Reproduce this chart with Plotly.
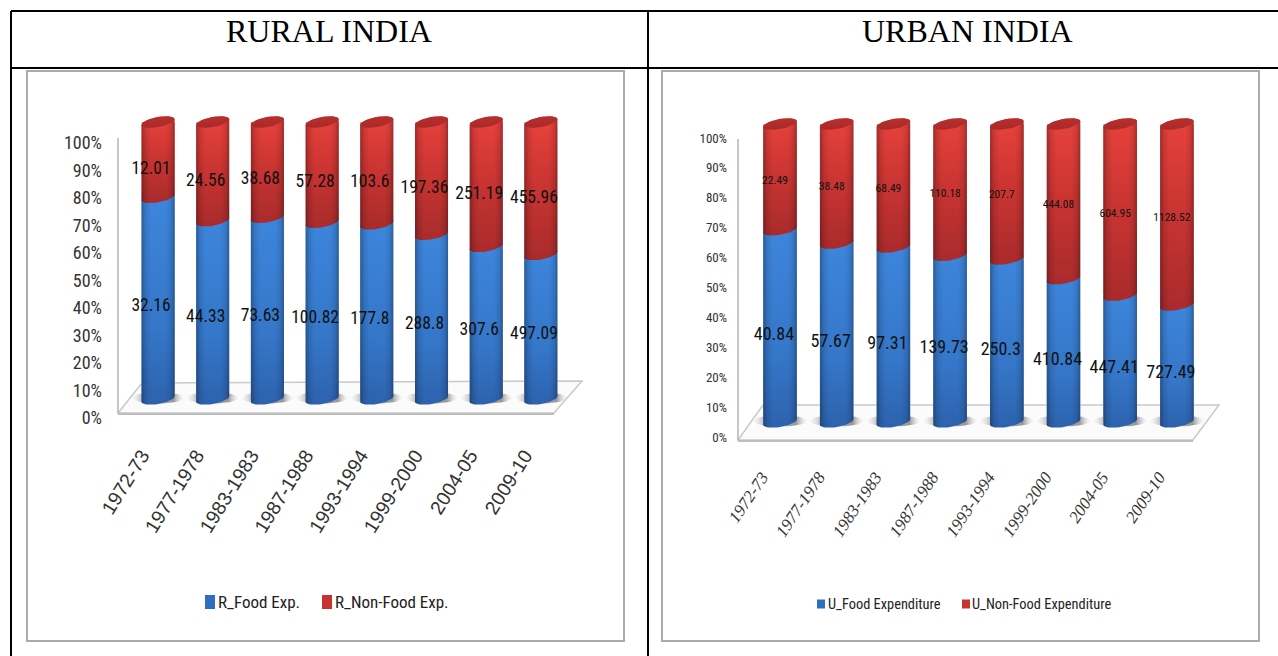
import numpy as np
import plotly.graph_objects as go

# Household expenditure by NSS round
periods = ["1972-73", "1977-1978", "1983-1983", "1987-1988", "1993-1994", "1999-2000", "2004-05", "2009-10"]
rural_food = [32.16, 44.33, 73.63, 100.82, 177.8, 288.8, 307.6, 497.09]
rural_non_food = [12.01, 24.56, 38.68, 57.28, 103.6, 197.36, 251.19, 455.96]
urban_food = [40.84, 57.67, 97.31, 139.73, 250.3, 410.84, 447.41, 727.49]
urban_non_food = [22.49, 38.48, 68.49, 110.18, 207.7, 444.08, 604.95, 1128.52]
pct_ticks = [0, 10, 20, 30, 40, 50, 60, 70, 80, 90, 100]

W, H = 1278, 656
NARROW = "Liberation Sans Narrow, Roboto Condensed, Noto Sans Condensed, DejaVu Sans Condensed, sans-serif"
BLUE, RED = "#2f6fc0", "#c8322f"
PAD = 7  # percentage points of headroom for the rims beyond 0 and 100


def fx(px):
    return px / W


def fy(py):
    return 1 - py / H


panels = [
    dict(title="RURAL INDIA", title_x=328.5, food=rural_food, other=rural_non_food,
         names=("R_Food Exp.", "R_Non-Food Exp."), first=158, step=54.7, width=33,
         base=399, top=122, tick_base=418, tick_top=143, tick_right=103, tick_font=18,
         tick_family=NARROW, x_font=19.5, x_family="Liberation Sans", x_style="normal", x_angle=-58,
         x_standoff=21, x_shift=-16,
         food_font=17.5, other_font=17.5, food_dx=-7, other_dx=-7, food_dy=8, other_dy=10,
         floor=[(118, 413), (554, 413), (582, 381), (142, 383)], wall_top=138,
         frame=(27, 71, 624, 641),
         legend=dict(y=602, swatches=(205, 322), labels=(216, 333), font=17, size=(10, 14))),
    dict(title="URBAN INDIA", title_x=967, food=urban_food, other=urban_non_food,
         names=("U_Food Expenditure", "U_Non-Food Expenditure"), first=780, step=56.7, width=33.5,
         base=422, top=124, tick_base=437, tick_top=138, tick_right=728, tick_font=13,
         tick_family=NARROW, x_font=17, x_family="Liberation Serif", x_style="italic", x_angle=-56,
         x_standoff=20, x_shift=-18,
         food_font=18, other_font=11.5, food_dx=-6, other_dx=-5, food_dy=10, other_dy=4,
         floor=[(738, 440), (1193, 440), (1219, 405), (763, 405)], wall_top=139,
         frame=(662, 71, 1259, 641),
         legend=dict(y=604, swatches=(817, 962), labels=(826, 970), font=14.4, size=(8, 9))),
]

fig = go.Figure()
shapes = []
annotations = []


def outline(cx, lo, hi, a, b, k):
    """Cylinder section between two percentages: back of the upper rim, front of the lower rim."""
    t = np.linspace(0, np.pi, 28)
    upper_x = cx - a * np.cos(t)
    upper_y = hi + b * np.sin(t) - k * np.cos(t)
    lower_x = cx + a * np.cos(t)
    lower_y = lo - b * np.sin(t) + k * np.cos(t)
    return np.r_[upper_x, lower_x, upper_x[0]], np.r_[upper_y, lower_y, upper_y[0]]


def rim(cx, level, a, b, k):
    t = np.linspace(0, 2 * np.pi, 56)
    return cx + a * np.cos(t), level + b * np.sin(t) + k * np.cos(t)


def poly(x, y, xa, ya, gradient):
    fig.add_trace(go.Scatter(x=x, y=y, xaxis=xa, yaxis=ya, mode="lines", line=dict(width=0),
                             fill="toself", fillgradient=gradient, hoverinfo="skip", showlegend=False))


EDGE_SHADE = dict(type="horizontal", colorscale=[
    [0, "rgba(0,0,0,0.30)"], [0.12, "rgba(0,0,0,0.10)"], [0.28, "rgba(0,0,0,0)"],
    [0.74, "rgba(0,0,0,0)"], [0.90, "rgba(0,0,0,0.10)"], [1, "rgba(0,0,0,0.30)"]])
BLUE_BODY = dict(type="vertical", colorscale=[[0, "#2d62ad"], [0.35, "#3576c8"], [1, "#3d86dc"]])
RED_BODY = dict(type="vertical", colorscale=[[0, "#a92b2c"], [0.55, "#cb3532"], [1, "#e8423c"]])
CAP = dict(type="vertical", colorscale=[[0, "#a82a2a"], [1, "#b82f2d"]])
SHADOW = dict(type="horizontal", colorscale=[[0, "rgba(235,235,235,0.2)"], [0.2, "rgba(170,170,170,0.8)"],
                                             [0.8, "rgba(140,140,140,0.9)"], [1, "rgba(235,235,235,0.2)"]])

for n, p in enumerate(panels):
    suffix = "" if n == 0 else "2"
    xa, ya = f"x{suffix}", f"y{suffix}"
    xticks_a, yticks_a = f"x{n + 3}", f"y{n + 3}"
    xs = list(range(len(periods)))
    unit_y = (p["base"] - p["top"]) / 100  # pixels per percentage point
    unit_x = p["step"]  # pixels per category
    a = p["width"] / 2 / unit_x
    b = 5 / unit_y
    k = 2.8 / unit_y
    x_left = p["first"] - unit_x / 2
    x_right = x_left + unit_x * len(periods)

    # Floor and back wall of the 3-D plot
    f = p["floor"]
    path = "M" + " L".join(f"{fx(u)},{fy(v)}" for u, v in f) + " Z"
    shapes.append(dict(type="path", xref="paper", yref="paper", path=path, fillcolor="#fbfbfb",
                       line=dict(color="#c9c9c9", width=1.5), layer="below"))
    shapes.append(dict(type="line", xref="paper", yref="paper", x0=fx(f[0][0]), x1=fx(f[1][0]),
                       y0=fy(f[0][1] + 1), y1=fy(f[1][1] + 1), line=dict(color="#bdbdbd", width=2), layer="below"))
    shapes.append(dict(type="line", xref="paper", yref="paper", x0=fx(f[0][0]), x1=fx(f[0][0]),
                       y0=fy(f[0][1]), y1=fy(p["wall_top"]), line=dict(color="#b4b4b4", width=1.5), layer="below"))
    # Chart frame
    x0, y0, x1, y1 = p["frame"]
    shapes.append(dict(type="rect", xref="paper", yref="paper", x0=fx(x0), x1=fx(x1), y0=fy(y0), y1=fy(y1),
                       line=dict(color="#ababab", width=2), layer="below"))

    # Stacked percentage columns
    fig.add_trace(go.Bar(x=xs, y=p["food"], xaxis=xa, yaxis=ya, width=2 * a, marker_color=BLUE,
                         name=p["names"][0], showlegend=False))
    fig.add_trace(go.Bar(x=xs, y=p["other"], xaxis=xa, yaxis=ya, width=2 * a, marker_color=RED,
                         name=p["names"][1], showlegend=False))

    food = np.array(p["food"])
    other = np.array(p["other"])
    share = food / (food + other) * 100

    # Cylinder bodies are traced along the same stacked percentages
    for i, s in zip(xs, share):
        sx, sy = rim(i, 0.4, 0.47, 1.15 * b, 0)
        poly(sx, sy, xa, ya, SHADOW)
        for lo, hi, body in ((0, s, BLUE_BODY), (s, 100, RED_BODY)):
            ox, oy = outline(i, lo, hi, a, b, k)
            poly(ox, oy, xa, ya, body)
            poly(ox, oy, xa, ya, EDGE_SHADE)
        cx_, cy_ = rim(i, 100, a, b, k)
        poly(cx_, cy_, xa, ya, CAP)

    # Value labels sit a little left of and below each section's middle
    fig.add_trace(go.Scatter(x=np.array(xs) + p["food_dx"] / unit_x, y=share / 2 - p["food_dy"] / unit_y,
                             xaxis=xa, yaxis=ya, mode="text", text=[str(v) for v in p["food"]],
                             textfont=dict(family=NARROW, size=p["food_font"], color="#111111"),
                             hoverinfo="skip", showlegend=False, cliponaxis=False))
    fig.add_trace(go.Scatter(x=np.array(xs) + p["other_dx"] / unit_x, y=(share + 100) / 2 - p["other_dy"] / unit_y,
                             xaxis=xa, yaxis=ya, mode="text", text=[str(v) for v in p["other"]],
                             textfont=dict(family=NARROW, size=p["other_font"], color="#111111"),
                             hoverinfo="skip", showlegend=False, cliponaxis=False))

    # Percentage scale: the axis sits on the wall plane, offset from the columns
    fig.add_trace(go.Scatter(x=xs[:1] * len(pct_ticks), y=pct_ticks, xaxis=xticks_a, yaxis=yticks_a, mode="none",
                             hoverinfo="skip", showlegend=False))

    fig.update_layout({
        f"xaxis{suffix}": dict(domain=[fx(x_left), fx(x_right)], range=[-0.5, len(periods) - 0.5], tickmode="array",
                               tickvals=xs, ticktext=periods, tickangle=p["x_angle"], ticks="", showgrid=False,
                               showline=False, zeroline=False, ticklabelstandoff=p["x_standoff"],
                               ticklabelshift=p["x_shift"], anchor=ya,
                               tickfont=dict(family=p["x_family"], size=p["x_font"], style=p["x_style"],
                                             color="#333333")),
        f"yaxis{suffix}": dict(domain=[fy(p["base"] + PAD * unit_y), fy(p["top"] - PAD * unit_y)],
                               range=[-PAD, 100 + PAD], visible=False, anchor=xa),
        f"xaxis{n + 3}": dict(domain=[fx(p["tick_right"]), fx(x_right)], range=[-0.5, 7.5], visible=False,
                              anchor=yticks_a),
        f"yaxis{n + 3}": dict(domain=[fy(p["tick_base"]), fy(p["tick_top"])], range=[0, 100], anchor=xticks_a,
                              side="left", showgrid=False, zeroline=False,
                              showline=False, ticks="", tickmode="array", tickvals=pct_ticks,
                              ticktext=[f"{v}%" for v in pct_ticks],
                              tickfont=dict(family=p["tick_family"], size=p["tick_font"], color="#333333")),
    })

    # Panel heading in the table's top row
    annotations.append(dict(text=p["title"], x=fx(p["title_x"]), y=fy(31), xref="paper", yref="paper",
                            showarrow=False, xanchor="center", yanchor="middle",
                            font=dict(family="Liberation Serif", size=32, color="#000000")))

    # Legend row
    leg = p["legend"]
    for sw, lab, name, colour in zip(leg["swatches"], leg["labels"], p["names"], (BLUE, RED)):
        shapes.append(dict(type="rect", xref="paper", yref="paper", x0=fx(sw), x1=fx(sw + leg["size"][0]),
                           y0=fy(leg["y"] - leg["size"][1] / 2), y1=fy(leg["y"] + leg["size"][1] / 2),
                           fillcolor=colour, line=dict(width=0)))
        annotations.append(dict(text=name, x=fx(lab), y=fy(leg["y"]), xref="paper", yref="paper", showarrow=False,
                                xanchor="left", yanchor="middle",
                                font=dict(family=NARROW, size=leg["font"], color="#222222")))

# Table ruling round the two panels
for x0, y0, x1, y1 in [(11, 11, W, 11), (11, 68, W, 68), (11, 11, 11, H), (648, 11, 648, H)]:
    shapes.append(dict(type="line", xref="paper", yref="paper", x0=fx(x0), x1=fx(x1), y0=fy(y0), y1=fy(y1),
                       line=dict(color="#000000", width=2)))

fig.update_layout(width=W, height=H, margin=dict(l=0, r=0, t=0, b=0, autoexpand=False), paper_bgcolor="white",
                  plot_bgcolor="rgba(0,0,0,0)", barmode="stack", barnorm="percent", showlegend=False,
                  shapes=shapes, annotations=annotations)
fig.write_html("out.html")
